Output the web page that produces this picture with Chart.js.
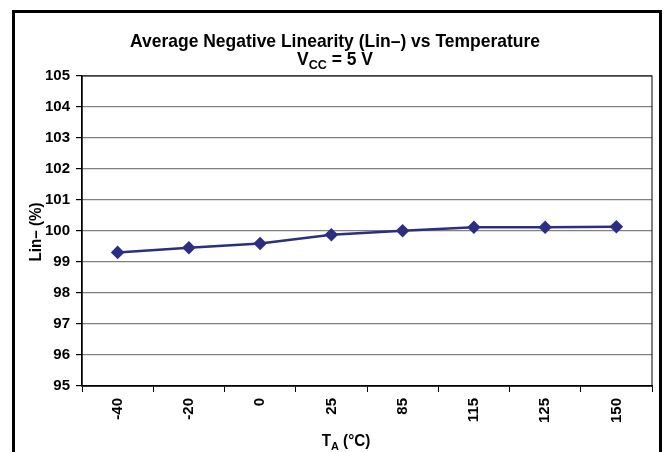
<!DOCTYPE html>
<html>
<head>
<meta charset="utf-8">
<script src="https://cdn.jsdelivr.net/npm/chart.js@4"></script>
<style>
  body { margin: 0; background: #fff; }
  #wrap { width: 670px; height: 452px; }
</style>
</head>
<body>
<div id="wrap"><canvas id="linchart" width="670" height="452"></canvas></div>
<script>
// data
const temps = ['-40', '-20', '0', '25', '85', '115', '125', '150'];
const linNeg = [99.31, 99.46, 99.60, 99.88, 100.01, 100.12, 100.12, 100.14];
const yTicks = [95, 96, 97, 98, 99, 100, 101, 102, 103, 104, 105];

const FONT = '"Liberation Sans", Arial, sans-serif';

// draws a run of [text, isSub] parts centered at x, squeezed by sx
function drawParts(ctx, parts, x, y, size, sx) {
  ctx.save();
  ctx.translate(x, y);
  ctx.scale(sx || 1, 1);
  let w = 0;
  parts.forEach(p => {
    ctx.font = 'bold ' + (p[1] ? size * 0.72 : size) + 'px ' + FONT;
    w += ctx.measureText(p[0]).width;
  });
  let cx = -w / 2;
  ctx.textAlign = 'left';
  ctx.textBaseline = 'alphabetic';
  parts.forEach(p => {
    ctx.font = 'bold ' + (p[1] ? size * 0.72 : size) + 'px ' + FONT;
    ctx.fillText(p[0], cx, p[1] ? size * 0.22 : 0);
    cx += ctx.measureText(p[0]).width;
  });
  ctx.restore();
}

const decor = {
  id: 'decor',
  beforeDraw(chart) {
    const ctx = chart.ctx;
    ctx.save();
    ctx.fillStyle = '#fff';
    ctx.fillRect(0, 0, chart.width, chart.height);
    ctx.restore();
  },
  afterDraw(chart) {
    const ctx = chart.ctx;
    ctx.save();
    // outer frame
    ctx.strokeStyle = '#000';
    ctx.lineWidth = 3;
    ctx.strokeRect(13.5, 11.5, 647, 460);
    ctx.fillStyle = '#000';
    // titles
    drawParts(ctx, [['Average Negative Linearity (Lin\u2013) vs Temperature', false]], 335, 47, 19, 0.92);
    drawParts(ctx, [['V', false], ['CC', true], [' = 5 V', false]], 335, 65, 19, 0.92);
    // x title
    drawParts(ctx, [['T', false], ['A', true], [' (\u00B0C)', false]], 346, 446, 16, 0.95);
    // y title
    ctx.translate(41, 232);
    ctx.rotate(-Math.PI / 2);
    drawParts(ctx, [['Lin\u2013 (%)', false]], 0, 0, 16, 0.95);
    ctx.restore();
  }
};

new Chart(document.getElementById('linchart'), {
  type: 'line',
  data: {
    labels: temps,
    datasets: [{
      label: 'Lin-',
      data: linNeg,
      borderColor: '#2B2E82',
      backgroundColor: '#2B2E82',
      borderWidth: 2.5,
      pointStyle: 'rectRot',
      pointRadius: 5,
      pointHoverRadius: 5,
      tension: 0
    }]
  },
  options: {
    responsive: false,
    animation: false,
    layout: { padding: { left: 0, top: 76, right: 18, bottom: 0 } },
    plugins: {
      legend: { display: false },
      title: { display: false },
      tooltip: { enabled: false }
    },
    scales: {
      x: {
        offset: true,
        afterFit: s => { s.height = 66; },
        grid: { offset: true, drawOnChartArea: false, color: '#000', tickLength: 6 },
        border: { color: '#000', width: 1.5 },
        ticks: {
          color: '#000', maxRotation: 90, minRotation: 90, padding: 6,
          font: { family: FONT, size: 15, weight: 'bold' }
        }
      },
      y: {
        min: 95,
        max: 105,
        afterFit: s => { s.width = 82; },
        afterBuildTicks: s => { s.ticks = yTicks.map(v => ({ value: v })); },
        grid: { color: '#808080', lineWidth: 1.2, tickLength: 6, tickColor: '#000' },
        border: { color: '#000', width: 1.5 },
        ticks: {
          color: '#000', padding: 6,
          font: { family: FONT, size: 15, weight: 'bold' }
        }
      }
    }
  },
  plugins: [decor, {
    id: 'plotBox',
    afterDatasetsDraw(chart) {
      const a = chart.chartArea, ctx = chart.ctx;
      ctx.save();
      ctx.strokeStyle = '#000';
      ctx.lineWidth = 1;
      ctx.strokeRect(a.left, a.top, a.right - a.left, a.bottom - a.top);
      ctx.restore();
    }
  }]
});
</script>
</body>
</html>
